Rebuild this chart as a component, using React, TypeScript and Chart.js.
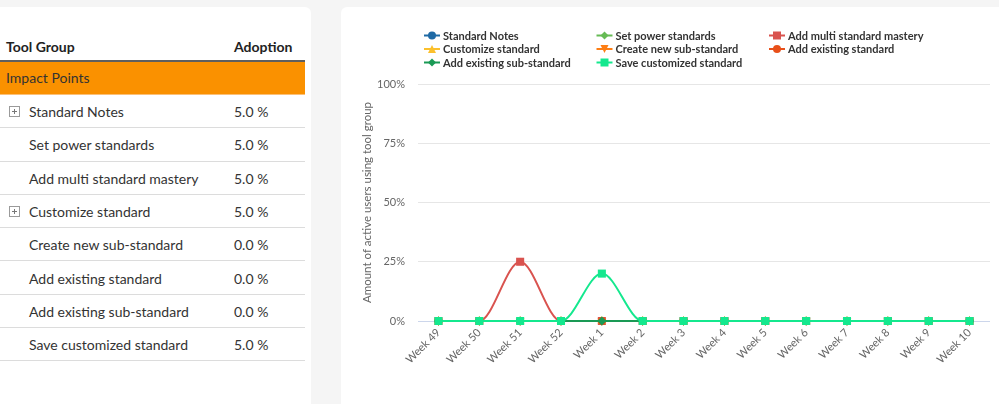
import React, { useEffect, useRef } from 'react';
import { Chart, registerables } from 'chart.js';

Chart.register(...registerables);

const weeks = ['Week 49', 'Week 50', 'Week 51', 'Week 52', 'Week 1', 'Week 2', 'Week 3', 'Week 4', 'Week 5', 'Week 6', 'Week 7', 'Week 8', 'Week 9', 'Week 10'];

const seriesNames = [
  'Standard Notes',
  'Set power standards',
  'Add multi standard mastery',
  'Customize standard',
  'Create new sub-standard',
  'Add existing standard',
  'Add existing sub-standard',
  'Save customized standard',
];

const standardNotes = [0, 0, 0, 0, 0, 0, 0, 0, 0, 0, 0, 0, 0, 0];
const setPowerStandards = [0, 0, 0, 0, 0, 0, 0, 0, 0, 0, 0, 0, 0, 0];
const addMultiStandardMastery = [0, 0, 25, 0, 0, 0, 0, 0, 0, 0, 0, 0, 0, 0];
const customizeStandard = [0, 0, 0, 0, 0, 0, 0, 0, 0, 0, 0, 0, 0, 0];
const createNewSubStandard = [0, 0, 0, 0, 0, 0, 0, 0, 0, 0, 0, 0, 0, 0];
const addExistingStandard = [0, 0, 0, 0, 0, 0, 0, 0, 0, 0, 0, 0, 0, 0];
const addExistingSubStandard = [0, 0, 0, 0, 0, 0, 0, 0, 0, 0, 0, 0, 0, 0];
const saveCustomizedStandard = [0, 0, 0, 0, 20, 0, 0, 0, 0, 0, 0, 0, 0, 0];

const seriesValues = [
  standardNotes,
  setPowerStandards,
  addMultiStandardMastery,
  customizeStandard,
  createNewSubStandard,
  addExistingStandard,
  addExistingSubStandard,
  saveCustomizedStandard,
];

const seriesColors = ['#1f6aa5', '#66bb55', '#d9534f', '#fbc02d', '#fd7e14', '#e8501a', '#1a9a55', '#14e88e'];
const seriesMarkers = ['circle', 'diamond', 'square', 'triangle', 'triangleDown', 'circle', 'diamond', 'square'];

const yTickValues = [0, 25, 50, 75, 100];

const tableGroup = 'Impact Points';
const tableNames = seriesNames;
const tableAdoption = ['5.0 %', '5.0 %', '5.0 %', '5.0 %', '0.0 %', '0.0 %', '0.0 %', '5.0 %'];
const tableExpandable = [true, false, false, true, false, false, false, false];

const FONT = 'Lato, "Noto Sans", sans-serif';

function markerPath(ctx: CanvasRenderingContext2D, kind: string, x: number, y: number, r: number) {
  ctx.beginPath();
  if (kind === 'circle') {
    ctx.arc(x, y, r, 0, Math.PI * 2);
  } else if (kind === 'square') {
    ctx.rect(x - r, y - r, r * 2, r * 2);
  } else if (kind === 'diamond') {
    ctx.moveTo(x, y - r);
    ctx.lineTo(x + r, y);
    ctx.lineTo(x, y + r);
    ctx.lineTo(x - r, y);
    ctx.closePath();
  } else if (kind === 'triangle') {
    ctx.moveTo(x, y - r);
    ctx.lineTo(x + r, y + r);
    ctx.lineTo(x - r, y + r);
    ctx.closePath();
  } else if (kind === 'triangleDown') {
    ctx.moveTo(x - r, y - r);
    ctx.lineTo(x + r, y - r);
    ctx.lineTo(x, y + r);
    ctx.closePath();
  }
}

const legendPlugin = {
  id: 'gridLegend',
  afterDraw(chart: any) {
    const ctx: CanvasRenderingContext2D = chart.ctx;
    ctx.save();
    ctx.font = `bold 11px ${FONT}`;
    ctx.textBaseline = 'middle';
    ctx.textAlign = 'left';
    chart.data.datasets.forEach((ds: any, i: number) => {
      const col = i % 3;
      const row = Math.floor(i / 3);
      const tx = 102 + col * 172.5;
      const ty = 28.5 + row * 13.5;
      ctx.strokeStyle = ds.borderColor;
      ctx.lineWidth = 2;
      ctx.beginPath();
      ctx.moveTo(tx - 19, ty);
      ctx.lineTo(tx - 3, ty);
      ctx.stroke();
      ctx.fillStyle = ds.borderColor;
      markerPath(ctx, seriesMarkers[i], tx - 11, ty, 4);
      ctx.fill();
      ctx.fillStyle = '#333333';
      ctx.fillText(ds.label, tx, ty + 0.5);
    });
    ctx.restore();
  },
};

function pointStyleFor(kind: string) {
  if (kind === 'circle') return { pointStyle: 'circle', rotation: 0, radius: 4 };
  if (kind === 'square') return { pointStyle: 'rect', rotation: 0, radius: 5.7 };
  if (kind === 'diamond') return { pointStyle: 'rectRot', rotation: 0, radius: 4.5 };
  if (kind === 'triangle') return { pointStyle: 'triangle', rotation: 0, radius: 5 };
  return { pointStyle: 'triangle', rotation: 180, radius: 5 };
}

function LineChart() {
  const ref = useRef<HTMLCanvasElement | null>(null);
  useEffect(() => {
    if (!ref.current) return;
    const datasets = seriesValues.map((vals, i) => {
      const ps = pointStyleFor(seriesMarkers[i]);
      return {
        label: seriesNames[i],
        data: vals,
        borderColor: seriesColors[i],
        backgroundColor: seriesColors[i],
        borderWidth: 2,
        pointStyle: ps.pointStyle,
        pointRotation: ps.rotation,
        pointRadius: ps.radius,
        pointBorderWidth: 0,
        pointBackgroundColor: seriesColors[i],
        cubicInterpolationMode: 'monotone',
        fill: false,
        clip: false,
        order: seriesValues.length - 1 - i,
      };
    });
    const chart = new Chart(ref.current, {
      type: 'line',
      data: { labels: weeks, datasets: datasets as any },
      plugins: [legendPlugin],
      options: {
        animation: false,
        responsive: false,
        maintainAspectRatio: false,
        devicePixelRatio: window.devicePixelRatio || 1,
        layout: { padding: { top: 77, right: 9, left: 0, bottom: 0 } },
        plugins: {
          legend: { display: false },
          tooltip: { enabled: false },
        },
        scales: {
          x: {
            offset: true,
            grid: { display: false, drawTicks: false },
            border: { display: false },
            ticks: {
              autoSkip: false,
              maxRotation: 45,
              minRotation: 45,
              padding: 5,
              color: '#666666',
              font: { family: FONT, size: 11 },
            },
            afterFit: (s: any) => {
              s.height = 83;
            },
          },
          y: {
            min: 0,
            max: 100,
            afterBuildTicks: (s: any) => {
              s.ticks = yTickValues.map((v) => ({ value: v }));
            },
            ticks: {
              padding: 13,
              color: '#666666',
              font: { family: FONT, size: 11 },
              callback: (v: any) => `${v}%`,
            },
            grid: {
              drawTicks: false,
              color: (c: any) => (c.tick && c.tick.value === 0 ? '#ccd6eb' : '#e6e6e6'),
              lineWidth: 1,
            },
            border: { display: false },
            title: {
              display: true,
              text: 'Amount of active users using tool group',
              color: '#666666',
              font: { family: FONT, size: 11.5 },
              padding: { top: 19, bottom: 0 },
            },
            afterFit: (s: any) => {
              s.width = 77;
            },
          },
        },
      } as any,
    });
    return () => chart.destroy();
  }, []);
  return <canvas ref={ref} width={658} height={397} style={{ display: 'block', width: 658, height: 397 }} />;
}

function ExpandIcon() {
  return (
    <div
      style={{
        position: 'absolute',
        left: 9,
        top: 11,
        width: 9,
        height: 9,
        border: '1px solid #9a9a9a',
        boxSizing: 'content-box',
      }}
    >
      <div style={{ position: 'absolute', left: 2, top: 4, width: 5, height: 1, background: '#777' }} />
      <div style={{ position: 'absolute', left: 4, top: 2, width: 1, height: 5, background: '#777' }} />
    </div>
  );
}

export default function App() {
  const rowH = 33.3;
  return (
    <div
      style={{
        position: 'fixed',
        left: 0,
        top: 0,
        width: 999,
        height: 404,
        background: '#f5f5f5',
        overflow: 'hidden',
        fontFamily: FONT,
      }}
    >
      <div
        style={{
          position: 'absolute',
          left: 0,
          top: 7,
          width: 311,
          height: 420,
          background: '#ffffff',
          borderTopRightRadius: 6,
        }}
      >
        <div
          style={{
            position: 'absolute',
            left: 0,
            top: 26,
            width: 305,
            height: 27,
            borderBottom: '2px solid #5f5f5f',
            fontWeight: 700,
            fontSize: 14,
            color: '#222',
            lineHeight: '28px',
          }}
        >
          <span style={{ position: 'absolute', left: 6 }}>Tool Group</span>
          <span style={{ position: 'absolute', left: 234 }}>Adoption</span>
        </div>
        <div
          style={{
            position: 'absolute',
            left: 0,
            top: 55,
            width: 305,
            height: 32,
            background: '#fa9100',
            borderBottom: '1px solid #fbc078',
            fontSize: 14,
            color: '#333',
            lineHeight: '31px',
          }}
        >
          <span style={{ position: 'absolute', left: 6 }}>{tableGroup}</span>
        </div>
        {tableNames.map((name, i) => (
          <div
            key={name}
            style={{
              position: 'absolute',
              left: 0,
              top: 88 + i * rowH,
              width: 305,
              height: rowH,
              boxSizing: 'border-box',
              borderBottom: '1px solid #dcdcdc',
              fontSize: 14,
              color: '#333',
              lineHeight: `${rowH}px`,
            }}
          >
            {tableExpandable[i] ? <ExpandIcon /> : null}
            <span style={{ position: 'absolute', left: 29 }}>{name}</span>
            <span style={{ position: 'absolute', left: 234 }}>{tableAdoption[i]}</span>
          </div>
        ))}
      </div>
      <div
        style={{
          position: 'absolute',
          left: 341,
          top: 7,
          width: 670,
          height: 420,
          background: '#ffffff',
          borderTopLeftRadius: 6,
        }}
      >
        <LineChart />
      </div>
    </div>
  );
}
